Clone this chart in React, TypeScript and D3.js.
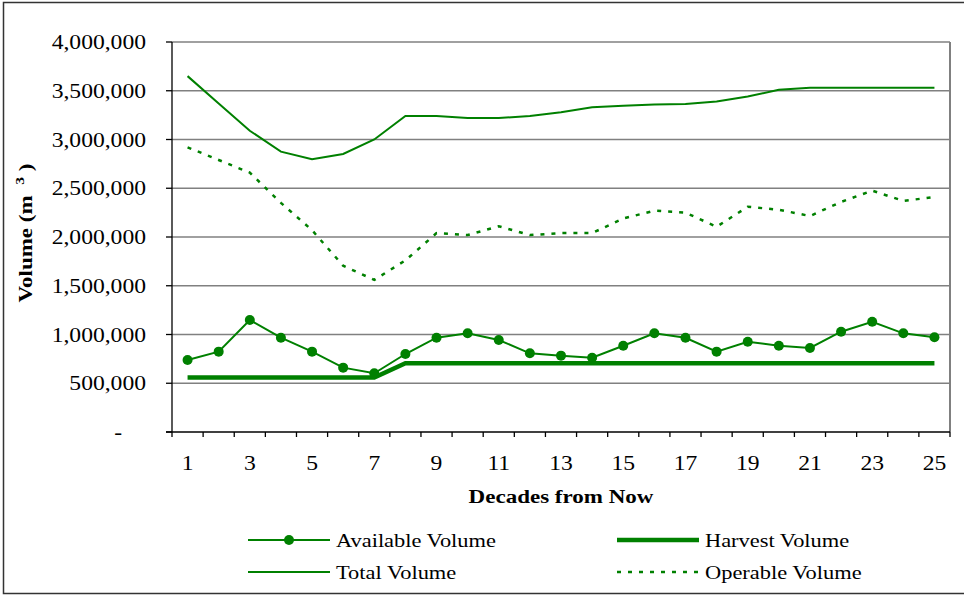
import React, { useEffect, useRef } from 'react';
import * as d3 from 'd3';

const decades = ['1', '2', '3', '4', '5', '6', '7', '8', '9', '10', '11', '12', '13', '14', '15', '16', '17', '18', '19', '20', '21', '22', '23', '24', '25'];

const availableVolume = [738000, 824000, 1149000, 967000, 824000, 660000, 602000, 800000, 967000, 1012000, 944000, 807000, 783000, 762000, 885000, 1012000, 967000, 824000, 926000, 885000, 862000, 1029000, 1131000, 1012000, 971000];

const harvestVolume = [558000, 558000, 558000, 558000, 558000, 558000, 558000, 705000, 705000, 705000, 705000, 705000, 705000, 705000, 705000, 705000, 705000, 705000, 705000, 705000, 705000, 705000, 705000, 705000, 705000];

const totalVolume = [3650000, 3370000, 3090000, 2875000, 2797000, 2851000, 3000000, 3241000, 3241000, 3220000, 3220000, 3240000, 3280000, 3330000, 3345000, 3360000, 3365000, 3390000, 3440000, 3510000, 3530000, 3530000, 3530000, 3530000, 3530000];

const operableVolume = [2920000, 2790000, 2660000, 2350000, 2070000, 1705000, 1560000, 1760000, 2040000, 2020000, 2110000, 2020000, 2040000, 2040000, 2190000, 2270000, 2250000, 2105000, 2310000, 2280000, 2215000, 2360000, 2475000, 2370000, 2410000];

const yTicks = [0, 500000, 1000000, 1500000, 2000000, 2500000, 3000000, 3500000, 4000000];
const yTickLabels = ['-', '500,000', '1,000,000', '1,500,000', '2,000,000', '2,500,000', '3,000,000', '3,500,000', '4,000,000'];
const xTickLabels = ['1', '3', '5', '7', '9', '11', '13', '15', '17', '19', '21', '23', '25'];

const GREEN = '#008000';
const FONT = '"Liberation Serif", "Times New Roman", serif';

const App: React.FC = () => {
  const ref = useRef<SVGSVGElement | null>(null);

  useEffect(() => {
    const svg = d3.select(ref.current);
    const width = 964;
    const height = 596;
    const plot = { left: 172, right: 950, top: 42, bottom: 432 };
    const sx = 1.18; // text in the original is stretched horizontally

    svg.selectAll('*').remove();
    svg.attr('width', width).attr('height', height);

    svg.append('rect')
      .attr('x', 0).attr('y', 0).attr('width', width).attr('height', height)
      .attr('fill', '#fff');
    svg.append('rect')
      .attr('x', 3.5).attr('y', 2.5).attr('width', 980).attr('height', 591)
      .attr('fill', 'none').attr('stroke', '#333').attr('stroke-width', 1.5);

    const x = d3.scaleBand<string>()
      .domain(decades)
      .range([plot.left, plot.right])
      .padding(0);
    const cx = (d: string) => (x(d) as number) + x.bandwidth() / 2;

    const y = d3.scaleLinear()
      .domain([0, 4000000])
      .range([plot.bottom, plot.top]);

    const text = (g: d3.Selection<any, any, any, any>, tx: number, ty: number, s: string, anchor: string, size: number, weight = 'normal') =>
      g.append('text')
        .attr('transform', `translate(${tx},${ty}) scale(${sx},1)`)
        .attr('text-anchor', anchor)
        .attr('font-family', FONT)
        .attr('font-size', size)
        .attr('font-weight', weight)
        .attr('fill', '#000')
        .text(s);

    // gridlines
    svg.append('g')
      .selectAll('line')
      .data(yTicks.filter(t => t > 0))
      .join('line')
      .attr('x1', plot.left).attr('x2', plot.right)
      .attr('y1', d => y(d)).attr('y2', d => y(d))
      .attr('stroke', '#808080').attr('stroke-width', 1.5);

    svg.append('line')
      .attr('x1', plot.right).attr('x2', plot.right)
      .attr('y1', plot.top).attr('y2', plot.bottom)
      .attr('stroke', '#808080').attr('stroke-width', 2);

    // axes
    const axes = svg.append('g').attr('stroke', '#000').attr('stroke-width', 1.3);
    axes.append('line')
      .attr('x1', plot.left).attr('x2', plot.left)
      .attr('y1', plot.top).attr('y2', plot.bottom + 5);
    axes.append('line')
      .attr('x1', plot.left - 6).attr('x2', plot.right)
      .attr('y1', plot.bottom).attr('y2', plot.bottom);
    axes.selectAll('line.yt')
      .data(yTicks)
      .join('line')
      .attr('class', 'yt')
      .attr('x1', plot.left - 6).attr('x2', plot.left)
      .attr('y1', d => y(d)).attr('y2', d => y(d));
    axes.selectAll('line.xt')
      .data(decades)
      .join('line')
      .attr('class', 'xt')
      .attr('x1', d => (x(d) as number) + x.bandwidth()).attr('x2', d => (x(d) as number) + x.bandwidth())
      .attr('y1', plot.bottom).attr('y2', plot.bottom + 5);

    const labels = svg.append('g');
    yTicks.forEach((t, i) => {
      const lbl = yTickLabels[i];
      text(labels, lbl === '-' ? 122 : 146, y(t) + 7, lbl, 'end', 20);
    });
    xTickLabels.forEach(l => {
      text(labels, cx(l), plot.bottom + 38, l, 'middle', 20);
    });

    text(labels, 561, 503, 'Decades from Now', 'middle', 19.5, 'bold');

    const yTitle = labels.append('text')
      .attr('transform', `translate(32,233) rotate(-90) scale(${sx},1)`)
      .attr('text-anchor', 'middle')
      .attr('font-family', FONT)
      .attr('font-size', 19.5)
      .attr('font-weight', 'bold');
    yTitle.append('tspan').text('Volume (m');
    yTitle.append('tspan').attr('font-size', 13).attr('dx', 9).attr('dy', -8).text('3');
    yTitle.append('tspan').attr('dx', 5).attr('dy', 8).text(')');

    // series
    const line = d3.line<number>()
      .x((_, i) => cx(decades[i]))
      .y(d => y(d));

    const series = svg.append('g').attr('fill', 'none');
    series.append('path')
      .attr('d', line(totalVolume))
      .attr('stroke', GREEN).attr('stroke-width', 2);
    series.append('path')
      .attr('d', line(operableVolume))
      .attr('stroke', GREEN).attr('stroke-width', 2.5)
      .attr('stroke-dasharray', '4,7');
    series.append('path')
      .attr('d', line(harvestVolume))
      .attr('stroke', GREEN).attr('stroke-width', 4.5);
    series.append('path')
      .attr('d', line(availableVolume))
      .attr('stroke', GREEN).attr('stroke-width', 2);

    svg.append('g')
      .attr('fill', GREEN)
      .selectAll('circle')
      .data(availableVolume)
      .join('circle')
      .attr('cx', (_, i) => cx(decades[i]))
      .attr('cy', d => y(d))
      .attr('r', 5);

    // legend
    const legend = svg.append('g');
    const items = [
      { name: 'Available Volume', lx: 248, ly: 540, w: 2, dash: null, marker: true },
      { name: 'Harvest Volume', lx: 617, ly: 540, w: 4.5, dash: null, marker: false },
      { name: 'Total Volume', lx: 248, ly: 572, w: 2, dash: null, marker: false },
      { name: 'Operable Volume', lx: 617, ly: 572, w: 2.5, dash: '4,7', marker: false },
    ];
    items.forEach(it => {
      const ln = legend.append('line')
        .attr('x1', it.lx).attr('x2', it.lx + 82)
        .attr('y1', it.ly).attr('y2', it.ly)
        .attr('stroke', GREEN).attr('stroke-width', it.w);
      if (it.dash) ln.attr('stroke-dasharray', it.dash);
      if (it.marker) {
        legend.append('circle')
          .attr('cx', it.lx + 41).attr('cy', it.ly).attr('r', 5)
          .attr('fill', GREEN);
      }
      text(legend, it.lx + 88, it.ly + 7, it.name, 'start', 19);
    });
  }, []);

  return <svg ref={ref} style={{ position: 'absolute', left: 0, top: 0 }}></svg>;
};

export default App;
